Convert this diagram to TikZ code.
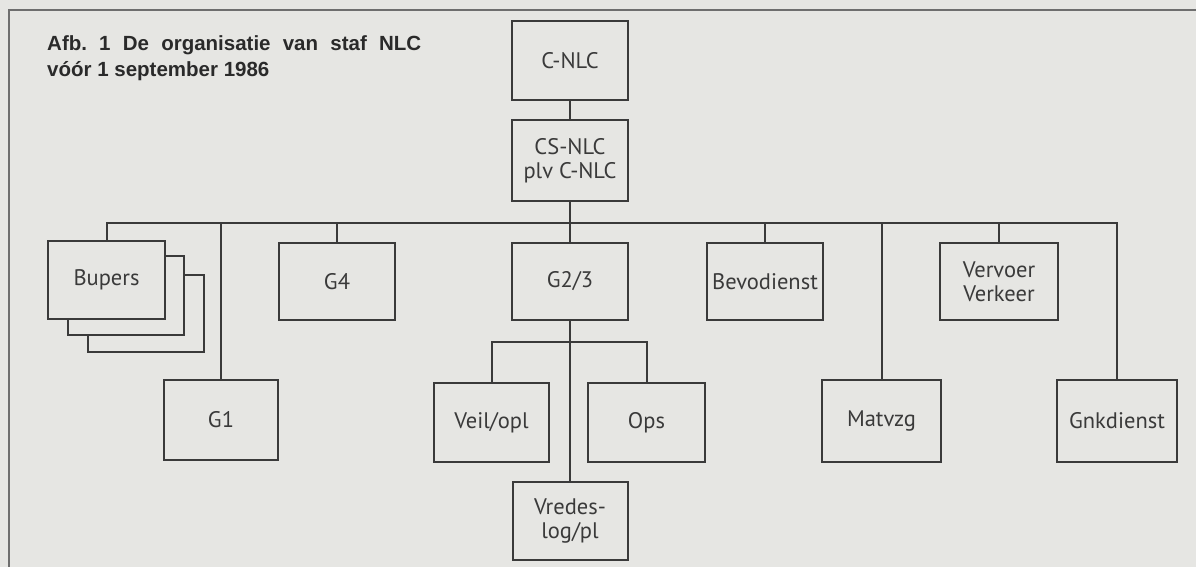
\documentclass[tikz,border=0pt]{standalone}
\usepackage{fontspec}
\setmainfont{PT Sans}
\newfontfamily\titlefont{Liberation Sans}
\definecolor{paper}{HTML}{E6E6E3}
\definecolor{ink}{HTML}{3A3A3A}
\definecolor{titleink}{HTML}{2A2A2A}
\definecolor{framegray}{HTML}{6E6E6E}
\tikzset{
  orgbox/.style={draw=ink, line width=2pt, fill=paper, rectangle, inner sep=0pt,
    text=ink, align=center, font=\fontsize{22.5}{24}\selectfont},
  conn/.style={draw=ink, line width=2pt},
  titletext/.style={anchor=base west, inner sep=0pt, text=titleink,
    font=\titlefont\bfseries\fontsize{20.5}{24}\selectfont},
}
\frenchspacing
\begin{document}
\begin{tikzpicture}[x=1pt,y=-1pt]
\useasboundingbox (0,0) rectangle (1196,567);
\fill[paper] (0,0) rectangle (1196,567);
% frame
\draw[framegray, line width=1.5pt] (9,567) -- (9,10) -- (1196,10);
% title
\node[titletext] (t1) at (47,51) {\makebox[374pt][s]{Afb.\ 1 De organisatie van staf NLC}};
\node[titletext] (t2) at (47,77) {vóór 1 september 1986};
% coordinates for buses
\coordinate (busy) at (0,223);
\coordinate (suby) at (0,342);
% boxes
\node[orgbox, minimum width=116pt, minimum height=77pt] (bup3) at (145.5,313) {};
\node[orgbox, minimum width=116pt, minimum height=79pt] (bup2) at (126,295) {};
\node[orgbox, minimum width=117pt, minimum height=78pt] (bupers) at (106.5,280) {Bupers};
\node[orgbox, minimum width=116pt, minimum height=79pt] (cnlc) at (570,60.5) {C-NLC};
\node[orgbox, minimum width=116pt, minimum height=81pt] (csnlc) at (570,160.5) {CS-NLC\\plv C-NLC};
\node[orgbox, minimum width=116pt, minimum height=77pt] (g4) at (337,281.5) {G4};
\node[orgbox, minimum width=116pt, minimum height=77pt] (g23) at (570,281.5) {G2/3};
\node[orgbox, minimum width=116pt, minimum height=77pt] (bevo) at (765,281.5) {Bevodienst};
\node[orgbox, minimum width=118pt, minimum height=77pt] (vervoer) at (999,281.5) {Vervoer\\Verkeer};
\node[orgbox, minimum width=114pt, minimum height=80pt] (g1) at (221,420) {G1};
\node[orgbox, minimum width=115pt, minimum height=79pt] (veil) at (491.5,422.5) {Veil/opl};
\node[orgbox, minimum width=117pt, minimum height=79pt] (ops) at (646.5,422.5) {Ops};
\node[orgbox, minimum width=115pt, minimum height=78pt] (vredes) at (570,521) {Vredes-\\log/pl};
\node[orgbox, minimum width=119pt, minimum height=82pt] (matvzg) at (881.5,421) {Matvzg};
\node[orgbox, minimum width=120pt, minimum height=82pt] (gnk) at (1117,421) {Gnkdienst};
% connectors
\draw[conn] (cnlc.south) -- (csnlc.north);
\draw[conn] (csnlc.south) -- (g23.north);
\draw[conn] (bupers.north) -- (bupers.north |- busy) -- (gnk.north |- busy) -- (gnk.north);
\draw[conn] (g1.north) -- (g1.north |- busy);
\draw[conn] (g4.north) -- (g4.north |- busy);
\draw[conn] (bevo.north) -- (bevo.north |- busy);
\draw[conn] (vervoer.north) -- (vervoer.north |- busy);
\draw[conn] (matvzg.north) -- (matvzg.north |- busy);
\draw[conn] (g23.south) -- (vredes.north);
\draw[conn] (veil.north) -- (veil.north |- suby) -- (ops.north |- suby) -- (ops.north);
\end{tikzpicture}
\end{document}
